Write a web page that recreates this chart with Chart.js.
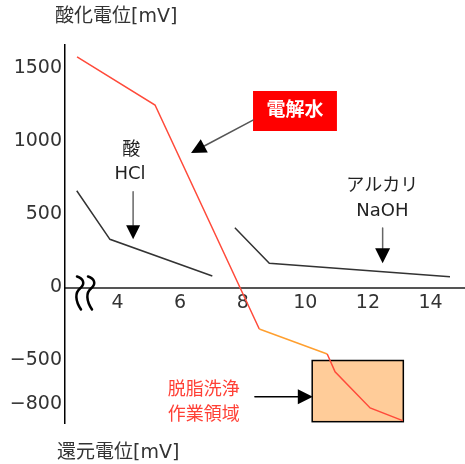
<!DOCTYPE html>
<html>
<head>
<meta charset="utf-8">
<script src="https://cdn.jsdelivr.net/npm/chart.js@4.4.1/dist/chart.umd.min.js"></script>
<style>
  body { margin: 0; background: #fff; }
  #wrap { width: 465px; height: 464px; }
</style>
</head>
<body>
<div id="wrap"><canvas id="chart"></canvas></div>
<script>
// pH (x) と 電位 mV (y)
const waterPH = [2.71, 5.2, 8.53, 10.7, 10.95, 12.07, 13.11];
const waterMV = [1580, 1250, -284, -455, -577, -825, -912];
const hclPH = [2.7, 3.76, 7.03];
const hclMV = [663, 330, 79];
const naohPH = [7.75, 8.85, 14.62];
const naohMV = [410, 166, 74];
const workPH = [10.22, 13.13];
const workMV = [-500, -919];
const xTicks = [4, 6, 8, 10, 12, 14];
const yTicks = [1500, 1000, 500, 0, -500, -800];

const FONT = '"DejaVu Sans", "Noto Sans CJK JP", sans-serif';

const toPoints = (xs, ys) => xs.map((x, i) => ({ x: x, y: ys[i] }));

function arrow(ctx, x1, y1, x2, y2, lineColor, headLen, headW) {
    const a = Math.atan2(y2 - y1, x2 - x1);
    const bx = x2 - Math.cos(a) * headLen;
    const by = y2 - Math.sin(a) * headLen;
    ctx.strokeStyle = lineColor;
    ctx.lineWidth = 1.5;
    ctx.beginPath();
    ctx.moveTo(x1, y1);
    ctx.lineTo(bx, by);
    ctx.stroke();
    ctx.fillStyle = '#000';
    ctx.beginPath();
    ctx.moveTo(x2, y2);
    ctx.lineTo(bx + Math.sin(a) * headW / 2, by - Math.cos(a) * headW / 2);
    ctx.lineTo(bx - Math.sin(a) * headW / 2, by + Math.cos(a) * headW / 2);
    ctx.closePath();
    ctx.fill();
}

function text(ctx, str, x, y, color, size, weight) {
    ctx.font = (weight || 'normal') + ' ' + size + 'px ' + FONT;
    ctx.fillStyle = color;
    ctx.textAlign = 'center';
    ctx.textBaseline = 'middle';
    ctx.fillText(str, x, y);
}

const annotations = {
    id: 'annotations',
    beforeDatasetsDraw(chart) {
        const { ctx, scales: { x, y } } = chart;
        // 作業領域の箱
        const x0 = x.getPixelForValue(workPH[0]), x1 = x.getPixelForValue(workPH[1]);
        const y0 = y.getPixelForValue(workMV[0]), y1 = y.getPixelForValue(workMV[1]);
        ctx.save();
        ctx.fillStyle = '#ffcc99';
        ctx.fillRect(x0, y0, x1 - x0, y1 - y0);
        ctx.strokeStyle = '#000';
        ctx.lineWidth = 1.5;
        ctx.strokeRect(x0, y0, x1 - x0, y1 - y0);
        ctx.restore();
    },
    afterDatasetsDraw(chart) {
        const { ctx, scales: { x, y } } = chart;
        const px = v => x.getPixelForValue(v);
        const py = v => y.getPixelForValue(v);
        ctx.save();

        // 軸の省略記号
        const zy = py(0) + 1;
        ctx.strokeStyle = '#000';
        ctx.lineWidth = 2.5;
        ctx.lineCap = 'round';
        [77, 88].forEach(sx => {
            ctx.beginPath();
            ctx.moveTo(sx, zy - 12);
            ctx.bezierCurveTo(sx + 6, zy - 10, sx + 9, zy - 5, sx + 3, zy);
            ctx.bezierCurveTo(sx - 2, zy + 4, sx - 2, zy + 12, sx + 4, zy + 21);
            ctx.stroke();
        });

        // 電解水
        ctx.fillStyle = '#ff0000';
        ctx.fillRect(px(8.33), py(1346), px(11.01) - px(8.33), py(1072) - py(1346));
        text(ctx, '電解水', px(9.67), py(1209), '#fff', 19, 'bold');
        arrow(ctx, px(8.33), py(1147), px(6.35), py(921), '#555', 15, 15);

        // 酸
        text(ctx, '酸', px(4.44), py(941), '#222', 18);
        text(ctx, 'HCl', px(4.4), py(777), '#222', 18);
        arrow(ctx, px(4.5), py(656), px(4.5), py(330), '#666', 14, 14);

        // アルカリ
        text(ctx, 'アルカリ', px(12.46), py(695), '#222', 18);
        text(ctx, 'NaOH', px(12.46), py(519), '#222', 18);
        arrow(ctx, px(12.47), py(408), px(12.47), py(166), '#666', 15, 15);

        // 脱脂洗浄 作業領域
        text(ctx, '脱脂洗浄', px(6.76), py(-702), '#ff4036', 18);
        text(ctx, '作業領域', px(6.76), py(-873), '#ff4036', 18);
        arrow(ctx, px(8.39), py(-748), px(10.24), py(-748), '#000', 15, 15);

        // 軸の見出し
        ctx.font = '19px ' + FONT;
        ctx.fillStyle = '#333';
        ctx.textAlign = 'left';
        ctx.textBaseline = 'middle';
        ctx.fillText('酸化電位[mV]', 55, 17);
        ctx.fillText('還元電位[mV]', 57, 453);
        ctx.restore();
    }
};

new Chart(document.getElementById('chart'), {
    type: 'line',
    data: {
        datasets: [
            {
                label: '電解水',
                data: toPoints(waterPH, waterMV),
                borderColor: '#ff4a3a',
                borderWidth: 1.5,
                pointRadius: 0,
                segment: {
                    borderColor: c => c.p0DataIndex === 2 ? '#ff9f2f' : '#ff4a3a'
                }
            },
            {
                label: 'HCl',
                data: toPoints(hclPH, hclMV),
                borderColor: '#333',
                borderWidth: 1.5,
                pointRadius: 0
            },
            {
                label: 'NaOH',
                data: toPoints(naohPH, naohMV),
                borderColor: '#333',
                borderWidth: 1.5,
                pointRadius: 0
            }
        ]
    },
    options: {
        responsive: true,
        maintainAspectRatio: false,
        animation: false,
        layout: { padding: { top: 45, bottom: 41, left: 0, right: 0 } },
        plugins: {
            legend: { display: false },
            tooltip: { enabled: false }
        },
        scales: {
            x: {
                type: 'linear',
                position: { y: 0 },
                min: 2.325,
                max: 15.1,
                afterBuildTicks: s => { s.ticks = xTicks.map(v => ({ value: v })); },
                grid: { display: false, drawTicks: false },
                border: { color: '#555', width: 2 },
                ticks: {
                    color: '#333',
                    padding: 4,
                    maxRotation: 0,
                    font: { size: 19, family: FONT }
                }
            },
            y: {
                type: 'linear',
                min: -928,
                max: 1661,
                afterBuildTicks: s => { s.ticks = yTicks.map(v => ({ value: v })); },
                afterFit: s => { s.width = 65; },
                grid: { display: false, drawTicks: false },
                border: { color: '#000', width: 1.5 },
                ticks: {
                    color: '#333',
                    padding: 3,
                    font: { size: 19, family: FONT },
                    callback: v => v < 0 ? '\u2212' + Math.abs(v) : String(v)
                }
            }
        }
    },
    plugins: [annotations]
});
</script>
</body>
</html>
